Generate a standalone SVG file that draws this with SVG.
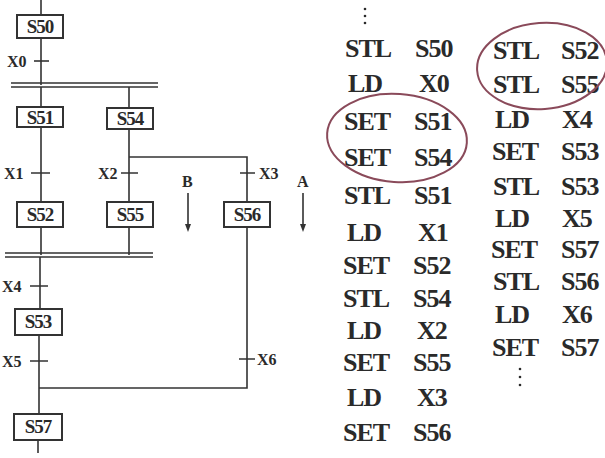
<svg xmlns="http://www.w3.org/2000/svg" width="605" height="458" viewBox="0 0 605 458">
<style>
.ln{stroke:#333;stroke-width:1.6;fill:none}
.box{fill:#fff;stroke:#333;stroke-width:2}
.bl{font-family:"Liberation Serif",serif;font-weight:bold;font-size:19px;fill:#2a2a2a;text-anchor:middle;letter-spacing:-1px}
.tl{font-family:"Liberation Serif",serif;font-weight:bold;font-size:16px;fill:#2a2a2a}
.code{font-family:"Liberation Serif",serif;font-weight:bold;font-size:26px;fill:#2a2a2a;letter-spacing:-1px}
.ell{fill:none;stroke:#8a4a5a;stroke-width:2}
</style>
<rect width="605" height="458" fill="#fff"/>
<g id="connectors">
<path class="ln" d="M41 0V15 M41 38V85"/>
<path class="ln" d="M34 61H49"/>
<path class="ln" d="M11 83H158 M11 87H158"/>
<path class="ln" d="M41 87V107 M129 87V108"/>
<path class="ln" d="M41 127V201 M31 173H50"/>
<path class="ln" d="M129 129V201 M121 173H138"/>
<path class="ln" d="M129 157H247V201 M240 173H255"/>
<path class="ln" d="M41 227V255 M129 227V255"/>
<path class="ln" d="M5 253H153 M5 257H153"/>
<path class="ln" d="M40 257V309 M30 286H48"/>
<path class="ln" d="M39 335V414 M30 361H48"/>
<path class="ln" d="M247 227V388H39 M239 359H255"/>
<path class="ln" d="M38 440V453"/>
<path class="ln" d="M188 193V228 M303 193V228"/>
<path d="M185 224L188 232L191 224Z M300 224L303 232L306 224Z" fill="#333"/>
</g>
<g id="S50"><rect class="box" x="17" y="15" width="46" height="23"/><text class="bl" x="40" y="33">S50</text></g>
<g id="S51"><rect class="box" x="17" y="107" width="46" height="20"/><text class="bl" x="40" y="124">S51</text></g>
<g id="S54"><rect class="box" x="107" y="108" width="46" height="21"/><text class="bl" x="130" y="125">S54</text></g>
<g id="S52"><rect class="box" x="17" y="202" width="46" height="25" stroke-width="2.6"/><text class="bl" x="40" y="221">S52</text></g>
<g id="S55"><rect class="box" x="107" y="202" width="46" height="25" stroke-width="2.6"/><text class="bl" x="130" y="221">S55</text></g>
<g id="S56"><rect class="box" x="224" y="202" width="46" height="25" stroke-width="2.6"/><text class="bl" x="247" y="221">S56</text></g>
<g id="S53"><rect class="box" x="15" y="309" width="47" height="26" stroke-width="2.6"/><text class="bl" x="38" y="328">S53</text></g>
<g id="S57"><rect class="box" x="14" y="414" width="48" height="26"/><text class="bl" x="38" y="433">S57</text></g>
<g id="labels">
<text class="tl" x="7" y="67">X0</text>
<text class="tl" x="4" y="179">X1</text>
<text class="tl" x="98" y="179">X2</text>
<text class="tl" x="259" y="179">X3</text>
<text class="tl" x="2" y="292">X4</text>
<text class="tl" x="2" y="367">X5</text>
<text class="tl" x="257" y="365">X6</text>
<text class="tl" x="182" y="187">B</text>
<text class="tl" x="297" y="187">A</text>
</g>
<g id="code">
<g fill="#2a2a2a"><circle cx="365" cy="9" r="1.3"/><circle cx="365" cy="16" r="1.3"/><circle cx="365" cy="23" r="1.3"/>
<circle cx="520" cy="369" r="1.3"/><circle cx="520" cy="377" r="1.3"/><circle cx="520" cy="385" r="1.3"/></g>
<text class="code" x="345" y="57">STL</text><text class="code" x="415" y="57">S50</text>
<text class="code" x="348" y="92">LD</text><text class="code" x="419" y="92">X0</text>
<text class="code" x="344" y="130">SET</text><text class="code" x="414" y="130">S51</text>
<text class="code" x="344" y="166">SET</text><text class="code" x="414" y="166">S54</text>
<text class="code" x="344" y="204">STL</text><text class="code" x="414" y="204">S51</text>
<text class="code" x="347" y="241">LD</text><text class="code" x="418" y="241">X1</text>
<text class="code" x="343" y="274">SET</text><text class="code" x="413" y="274">S52</text>
<text class="code" x="343" y="307">STL</text><text class="code" x="413" y="307">S54</text>
<text class="code" x="347" y="339">LD</text><text class="code" x="417" y="339">X2</text>
<text class="code" x="343" y="371">SET</text><text class="code" x="413" y="371">S55</text>
<text class="code" x="347" y="406">LD</text><text class="code" x="417" y="406">X3</text>
<text class="code" x="343" y="441">SET</text><text class="code" x="413" y="441">S56</text>
<text class="code" x="493" y="59">STL</text><text class="code" x="561" y="59">S52</text>
<text class="code" x="493" y="93">STL</text><text class="code" x="561" y="93">S55</text>
<text class="code" x="495" y="128">LD</text><text class="code" x="562" y="128">X4</text>
<text class="code" x="492" y="160">SET</text><text class="code" x="561" y="160">S53</text>
<text class="code" x="493" y="195">STL</text><text class="code" x="561" y="195">S53</text>
<text class="code" x="495" y="227">LD</text><text class="code" x="562" y="227">X5</text>
<text class="code" x="491" y="258">SET</text><text class="code" x="561" y="258">S57</text>
<text class="code" x="493" y="290">STL</text><text class="code" x="561" y="290">S56</text>
<text class="code" x="495" y="323">LD</text><text class="code" x="562" y="323">X6</text>
<text class="code" x="492" y="356">SET</text><text class="code" x="561" y="356">S57</text>
<ellipse class="ell" cx="397" cy="138" rx="70" ry="44" transform="rotate(4 397 138)"/>
<ellipse class="ell" cx="542" cy="66" rx="65" ry="43" transform="rotate(-4 542 66)"/>
</g>
</svg>
